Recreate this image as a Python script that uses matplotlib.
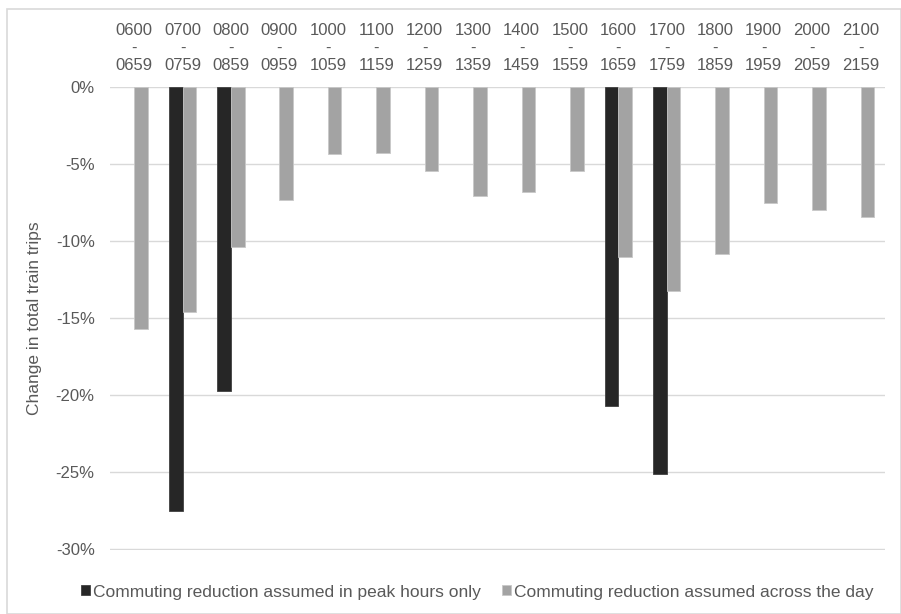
import numpy as np
import matplotlib.pyplot as plt
from matplotlib.patches import Rectangle
from matplotlib.ticker import FuncFormatter

plt.rcParams['font.family'] = ['Liberation Sans', 'DejaVu Sans']

# data (% change in total train trips)
hours = ['0600', '0700', '0800', '0900', '1000', '1100', '1200', '1300',
         '1400', '1500', '1600', '1700', '1800', '1900', '2000', '2100']
hours_end = ['0659', '0759', '0859', '0959', '1059', '1159', '1259', '1359',
             '1459', '1559', '1659', '1759', '1859', '1959', '2059', '2159']
peak_only = [np.nan, -27.5, -19.7, np.nan, np.nan, np.nan, np.nan, np.nan,
             np.nan, np.nan, -20.7, -25.1, np.nan, np.nan, np.nan, np.nan]
across_day = [-15.7, -14.6, -10.4, -7.3, -4.35, -4.25, -5.45, -7.05,
              -6.8, -5.45, -11.0, -13.25, -10.8, -7.5, -7.95, -8.4]

txt = '#595959'
fs = 12
fig = plt.figure(figsize=(9.01, 6.14), dpi=100)
ax = fig.add_axes([0.122, 0.104, 0.860, 0.754])

x = np.arange(len(hours))
w = 0.28
ax.bar(x - w/2, peak_only, w, color='#262626', edgecolor='#404040', linewidth=0.6,
       label='Commuting reduction assumed in peak hours only', zorder=3)
ax.bar(x + w/2, across_day, w, color='#a3a3a3', edgecolor='#c8c8c8', linewidth=0.6,
       label='Commuting reduction assumed across the day', zorder=3)

ax.set_xlim(-0.5, len(hours) - 0.5)
ax.set_ylim(-30.05, 0)
ax.set_yticks(np.arange(-30, 1, 5))
ax.yaxis.set_major_formatter(FuncFormatter(lambda v, p: '%d%%' % round(v)))
ax.grid(axis='y', color='#d9d9d9', linewidth=1, zorder=0)
ax.set_axisbelow(True)

ax.xaxis.tick_top()
ax.set_xticks(x)
ax.set_xticklabels([a + '\n-\n' + b for a, b in zip(hours, hours_end)],
                   linespacing=1.2)
ax.tick_params(axis='both', length=0, colors=txt, labelsize=fs)
ax.tick_params(axis='x', pad=10)
ax.tick_params(axis='y', pad=11)
for s in ax.spines.values():
    s.set_visible(False)

ax.set_ylabel('Change in total train trips', color=txt, fontsize=12.5, labelpad=10)

leg = fig.legend(loc='lower center', bbox_to_anchor=(0.53, -0.002), ncol=2,
                 frameon=False, fontsize=12.5, handlelength=0.5, handleheight=0.5,
                 handletextpad=0.2, columnspacing=1.2)
for t in leg.get_texts():
    t.set_color(txt)

fig.patches.append(Rectangle((0.008, 0.0), 0.992, 0.985, transform=fig.transFigure,
                             fill=False, edgecolor='#d9d9d9', linewidth=1.2))

fig.savefig('out.png', dpi=100)
